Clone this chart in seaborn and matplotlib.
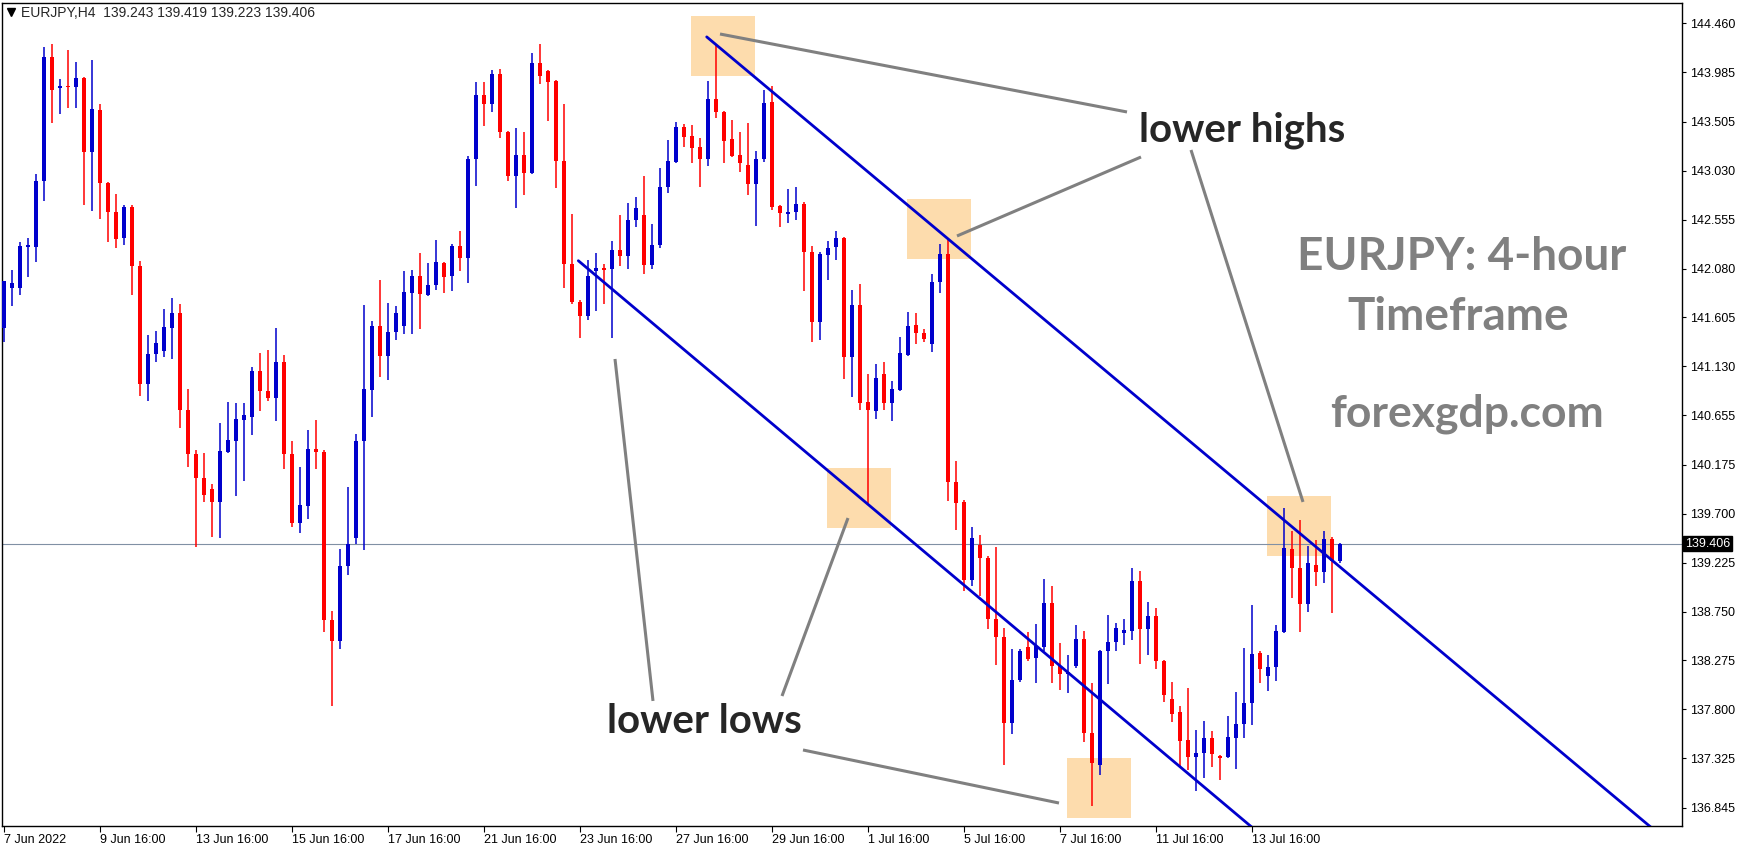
import numpy as np
import pandas as pd
import matplotlib
matplotlib.use('Agg')
import matplotlib.pyplot as plt
from matplotlib.patches import Rectangle
import seaborn as sns


# ---- data (168 bars) ----
opens = [141.50, 141.89, 141.89, 142.29, 142.29, 142.93, 144.13, 143.83, 143.85, 143.84,
         143.93, 143.21, 143.62, 142.91, 142.63, 142.38, 142.68, 142.10, 140.96, 141.25,
         141.28, 141.50, 141.65, 140.71, 140.28, 140.05, 139.94, 139.81, 140.30, 140.41,
         140.61, 140.64, 141.09, 140.89, 140.82, 141.17, 140.28, 139.61, 139.77, 140.33,
         140.30, 138.67, 138.46, 139.19, 139.46, 140.41, 140.90, 141.52, 141.23, 141.46,
         141.52, 141.84, 142.01, 141.82, 141.92, 142.13, 142.01, 142.30, 142.18, 143.14,
         143.76, 143.68, 143.97, 143.41, 142.98, 143.18, 143.01, 144.08, 144.00, 143.90,
         143.12, 142.12, 141.76, 141.62, 142.06, 142.09, 142.08, 142.26, 142.20, 142.55,
         142.60, 142.11, 142.31, 142.87, 143.11, 143.45, 143.37, 143.26, 143.14, 143.73,
         143.60, 143.34, 143.18, 143.09, 142.90, 143.14, 143.70, 142.69, 142.61, 142.63,
         142.71, 142.24, 141.56, 142.21, 142.29, 142.38, 141.22, 141.73, 140.78, 140.70,
         141.06, 140.77, 140.90, 141.24, 141.53, 141.45, 141.35, 141.95, 142.22, 140.01,
         139.81, 139.06, 139.40, 139.27, 138.68, 138.50, 137.67, 138.09, 138.41, 138.30,
         138.41, 138.83, 138.22, 138.14, 138.22, 138.48, 137.57, 137.26, 138.37, 138.45,
         138.54, 138.56, 139.05, 138.58, 138.71, 138.27, 137.90, 137.77, 137.50, 137.34,
         137.38, 137.52, 137.35, 137.34, 137.52, 137.66, 137.86, 138.35, 138.12, 138.21,
         138.55, 139.36, 139.17, 138.82, 139.20, 139.13, 139.45, 139.243]
highs = [141.96, 142.07, 142.34, 142.38, 143.00, 144.23, 144.26, 143.92, 144.20, 144.09,
         143.94, 144.10, 143.68, 142.92, 142.80, 142.70, 142.70, 142.15, 141.43, 141.47,
         141.69, 141.79, 141.74, 140.91, 140.32, 140.29, 139.99, 140.58, 140.78, 140.77,
         140.77, 141.12, 141.26, 141.29, 141.50, 141.24, 140.41, 140.15, 140.51, 140.61,
         140.32, 138.76, 139.36, 139.96, 140.47, 141.73, 141.57, 141.97, 141.75, 141.72,
         142.06, 142.07, 142.23, 142.13, 142.36, 142.14, 142.32, 142.44, 143.17, 143.89,
         143.89, 144.01, 144.02, 143.42, 143.44, 143.41, 144.17, 144.26, 144.01, 143.91,
         143.68, 142.61, 141.77, 142.16, 142.23, 142.12, 142.35, 142.60, 142.72, 142.77,
         142.98, 142.51, 143.06, 143.33, 143.50, 143.48, 143.47, 143.35, 143.90, 144.26,
         143.61, 143.52, 143.41, 143.49, 143.22, 143.81, 143.85, 142.70, 142.85, 142.87,
         142.73, 142.30, 142.24, 142.35, 142.44, 142.39, 141.87, 141.93, 141.06, 141.15,
         141.17, 140.99, 141.42, 141.66, 141.65, 141.49, 142.03, 142.32, 142.36, 140.21,
         139.83, 139.57, 139.49, 139.29, 139.38, 138.59, 138.39, 138.39, 138.55, 138.63,
         139.07, 139.00, 138.44, 138.33, 138.62, 138.56, 138.06, 138.38, 138.72, 138.64,
         138.68, 139.17, 139.14, 138.84, 138.78, 138.28, 138.07, 137.83, 138.01, 137.60,
         137.69, 137.59, 137.36, 137.74, 137.97, 138.40, 138.81, 138.37, 138.33, 138.62,
         139.76, 139.53, 139.64, 139.39, 139.44, 139.53, 139.47, 139.419]
lows = [141.37, 141.72, 141.82, 142.00, 142.14, 142.74, 143.49, 143.58, 143.64, 143.64,
        142.70, 142.64, 142.56, 142.34, 142.28, 142.31, 141.82, 140.84, 140.79, 141.17,
        141.22, 141.20, 140.53, 140.15, 139.38, 139.81, 139.47, 139.46, 140.29, 139.87,
        140.02, 140.46, 140.70, 140.79, 140.60, 140.13, 139.57, 139.51, 139.65, 140.13,
        138.55, 137.83, 138.39, 139.10, 139.41, 139.35, 140.64, 141.03, 141.00, 141.39,
        141.44, 141.44, 141.49, 141.81, 141.87, 141.84, 141.86, 142.06, 141.94, 142.88,
        143.46, 143.60, 143.35, 142.93, 142.67, 142.79, 143.00, 143.87, 143.51, 142.86,
        141.89, 141.74, 141.41, 141.58, 141.67, 141.74, 141.41, 142.10, 142.08, 142.48,
        142.03, 142.08, 142.28, 142.81, 143.10, 143.26, 143.10, 142.87, 143.08, 143.54,
        143.10, 143.16, 143.02, 142.79, 142.49, 143.11, 142.65, 142.48, 142.52, 142.55,
        141.86, 141.37, 141.39, 141.97, 142.16, 141.01, 140.83, 140.71, 139.80, 140.62,
        140.71, 140.60, 140.89, 141.23, 141.35, 141.37, 141.27, 141.84, 139.82, 139.54,
        138.95, 139.00, 138.90, 138.58, 138.23, 137.26, 137.56, 138.07, 138.27, 138.06,
        138.37, 138.06, 137.99, 137.96, 138.20, 137.48, 136.86, 137.16, 138.05, 138.37,
        138.43, 138.47, 138.24, 138.33, 138.19, 137.87, 137.68, 137.25, 137.21, 137.01,
        137.13, 137.24, 137.11, 137.33, 137.22, 137.52, 137.65, 138.06, 137.98, 138.08,
        138.54, 138.88, 138.55, 138.75, 139.00, 139.03, 138.74, 139.223]
closes = [141.96, 141.94, 142.30, 142.31, 142.93, 144.13, 143.81, 143.85, 143.84, 143.93,
          143.21, 143.63, 142.91, 142.63, 142.37, 142.68, 142.10, 140.96, 141.25, 141.36,
          141.51, 141.65, 140.71, 140.28, 140.05, 139.88, 139.81, 140.31, 140.42, 140.62,
          140.66, 141.09, 140.89, 140.82, 141.17, 140.28, 139.61, 139.78, 140.33, 140.30,
          138.67, 138.46, 139.19, 139.41, 140.41, 140.91, 141.52, 141.23, 141.46, 141.65,
          141.85, 142.01, 141.83, 141.92, 142.14, 142.00, 142.30, 142.18, 143.14, 143.76,
          143.68, 143.97, 143.41, 142.98, 143.18, 143.01, 144.08, 143.95, 143.89, 143.12,
          142.12, 141.76, 141.62, 142.01, 142.09, 142.07, 142.26, 142.20, 142.55, 142.67,
          142.11, 142.31, 142.87, 143.12, 143.45, 143.36, 143.25, 143.14, 143.73, 143.60,
          143.32, 143.17, 143.10, 142.90, 143.14, 143.69, 142.68, 142.62, 142.63, 142.71,
          142.24, 141.56, 142.22, 142.28, 142.38, 141.22, 141.73, 140.77, 140.71, 141.02,
          140.77, 140.91, 141.26, 141.52, 141.45, 141.40, 141.95, 142.22, 140.01, 139.80,
          139.06, 139.46, 139.27, 138.68, 138.50, 137.67, 138.09, 138.37, 138.29, 138.42,
          138.83, 138.22, 138.14, 138.16, 138.48, 137.57, 137.28, 138.37, 138.45, 138.59,
          138.57, 139.05, 138.58, 138.71, 138.27, 137.94, 137.76, 137.49, 137.34, 137.38,
          137.52, 137.37, 137.33, 137.53, 137.66, 137.86, 138.34, 138.19, 138.21, 138.56,
          139.37, 139.17, 138.82, 139.22, 139.13, 139.45, 139.24, 139.406]

date_labels = ['7 Jun 2022', '9 Jun 16:00', '13 Jun 16:00', '15 Jun 16:00', '17 Jun 16:00',
               '21 Jun 16:00', '23 Jun 16:00', '27 Jun 16:00', '29 Jun 16:00', '1 Jul 16:00',
               '5 Jul 16:00', '7 Jul 16:00', '11 Jul 16:00', '13 Jul 16:00']
price_ticks = [144.460, 143.985, 143.505, 143.030, 142.555, 142.080, 141.605, 141.130,
               140.655, 140.175, 139.700, 139.225, 138.750, 138.275, 137.800, 137.325, 136.845]

# channel lines (bar index, price) and highlighted swing zones
upper_channel = [(87.84, 144.329), (165.75, 139.264)]
lower_channel = [(71.79, 142.156), (155.96, 136.658)]
zones = [(85.875, 143.945, 8, 0.584), (112.875, 142.173, 8, 0.582),
         (102.875, 139.561, 8, 0.583), (132.875, 136.746, 8, 0.582),
         (157.875, 139.289, 8, 0.583)]
pointers = [((89.5, 144.357), (140.375, 143.600)),
            ((119.125, 142.396), (142.125, 143.163)),
            ((148.375, 143.231), (162.375, 139.814)),
            ((76.375, 141.202), (81.125, 137.882)),
            ((105.5, 139.658), (97.25, 137.930)),
            ((99.875, 137.406), (131.875, 136.891))]

df = pd.DataFrame({'open': opens, 'high': highs, 'low': lows, 'close': closes})
df['bar'] = np.arange(len(df))
last = df.iloc[-1]

sns.set_style('white')
plt.rcParams['font.family'] = ['Liberation Sans', 'DejaVu Sans']

fig = plt.figure(figsize=(17.46, 8.5), dpi=100)
ax = fig.add_axes([2 / 1746, 24 / 850, 1680 / 1746, 823 / 850])

BLUE = '#0000cc'
RED = '#ff0000'
cols = np.where(df['close'] >= df['open'], BLUE, RED)

# highlight zones behind the candles
for x0, y0, w, h in zones:
    ax.add_patch(Rectangle((x0, y0), w, h, facecolor='#fddcad', edgecolor='none', zorder=1))

# candles
ax.vlines(df['bar'], df['low'], df['high'], colors=cols, lw=1.1, zorder=3)
body = (df['close'] - df['open']).abs().clip(lower=0.012)
ax.bar(df['bar'], body, bottom=df[['open', 'close']].min(axis=1), width=0.62,
       color=cols, linewidth=0, zorder=3)

# current price line
ax.axhline(last['close'], color='#8090a4', lw=0.8, zorder=2)

# channel lines, extended to the bottom of the chart
rows = []
for name, ((xa, ya), (xb, yb)) in [('upper', upper_channel), ('lower', lower_channel)]:
    slope = (yb - ya) / (xb - xa)
    x_end = xa + (136.0 - ya) / slope
    rows += [(name, xa, ya), (name, x_end, 136.0)]
lines = pd.DataFrame(rows, columns=['line', 'bar', 'price'])
sns.lineplot(data=lines, x='bar', y='price', hue='line', palette=[BLUE, BLUE],
             estimator=None, sort=False, lw=2.0, legend=False, ax=ax, zorder=4)

# grey pointers
for (xa, ya), (xb, yb) in pointers:
    ax.plot([xa, xb], [ya, yb], color='#808080', lw=2.2, solid_capstyle='butt', zorder=4)

big = ['Lato', 'DejaVu Sans']
ax.text(154.75, 143.309, 'lower highs', fontsize=29, fontweight='bold', family=big,
        ha='center', va='baseline', zorder=5)
ax.text(87.5, 137.571, 'lower lows', fontsize=29, fontweight='bold', family=big,
        ha='center', va='baseline', zorder=5)
ax.text(182.25, 142.066, 'EURJPY: 4-hour', fontsize=33, fontweight='bold', family=big,
        color='#808080', ha='center', va='baseline', zorder=5)
ax.text(181.8, 141.484, 'Timeframe', fontsize=33, fontweight='bold', family=big,
        color='#808080', ha='center', va='baseline', zorder=5)
ax.text(182.9, 140.542, 'forexgdp.com', fontsize=32, fontweight='bold', family=big,
        color='#808080', ha='center', va='baseline', zorder=5)

# header
ax.plot([0.0054], [0.989], marker='v', markersize=6, color='black',
        transform=ax.transAxes, clip_on=False)
ax.text(0.0113, 0.988, '%s  %.3f %.3f %.3f %.3f' % ('EURJPY,H4', last['open'], last['high'],
        last['low'], last['close']), transform=ax.transAxes, fontsize=10, va='center', ha='left')

ax.set_xlim(-0.25, 209.75)
ax.set_ylim(136.668, 144.658)

ax.yaxis.tick_right()
ax.set_yticks(price_ticks)
ax.set_yticklabels(['%.3f' % p for p in price_ticks])
ax.set_xticks(np.arange(len(date_labels)) * 12)
ax.set_xticklabels(date_labels, ha='left')
ax.tick_params(axis='both', direction='out', length=3, width=0.8, labelsize=9,
               colors='black', pad=3)
ax.tick_params(axis='y', right=True, left=False)
ax.tick_params(axis='x', bottom=True, length=4, pad=2)
ax.set_xlabel('')
ax.set_ylabel('')
for s in ax.spines.values():
    s.set_visible(True)
    s.set_color('black')
    s.set_linewidth(1.0)

ax.annotate('%.3f' % last['close'], xy=(1, last['close']), xycoords=ax.get_yaxis_transform(),
            xytext=(2, 0), textcoords='offset points', ha='left', va='center', color='white',
            fontsize=9, bbox=dict(boxstyle='square,pad=0.12', fc='black', ec='black'),
            annotation_clip=False, zorder=6)

fig.savefig('out.png', dpi=100)
